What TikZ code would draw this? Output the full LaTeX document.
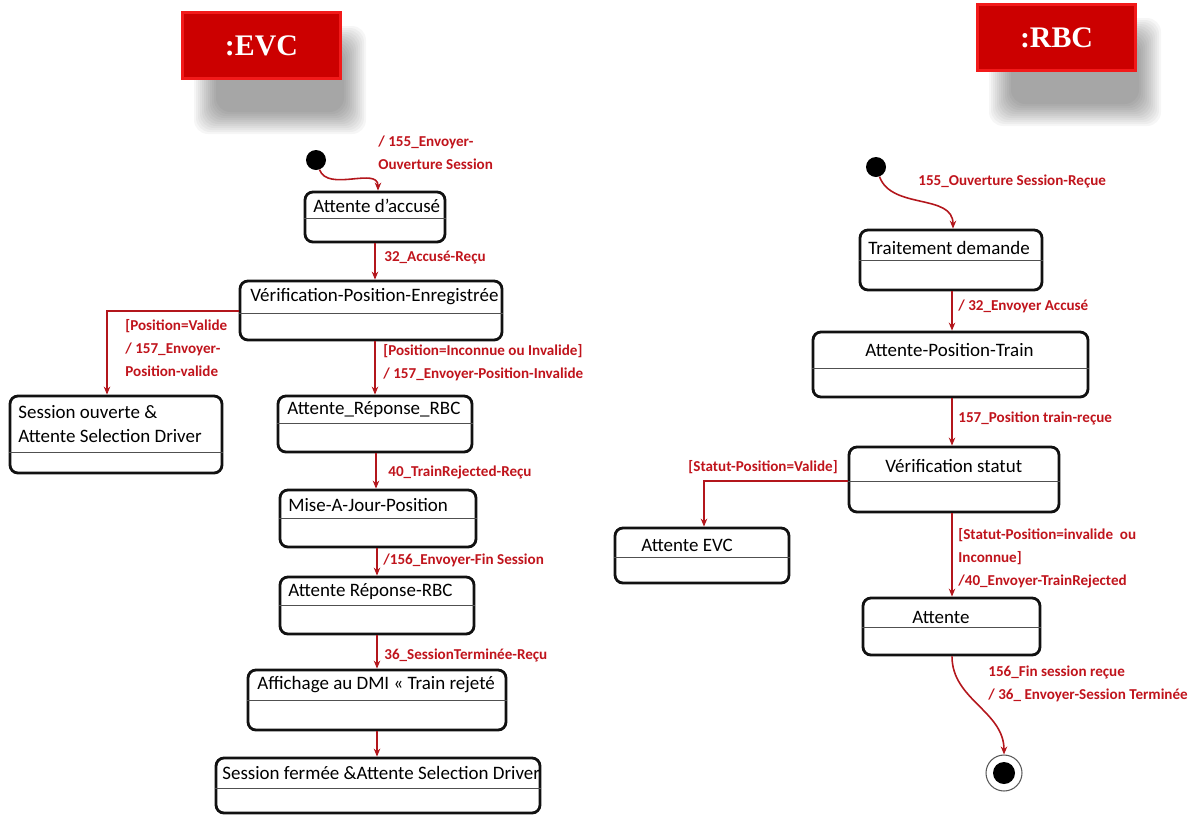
\documentclass[tikz,border=0pt]{standalone}
\usepackage{fontspec}
\setmainfont{Carlito}
\newfontfamily\hdrfont{Liberation Serif}
\usetikzlibrary{positioning,arrows.meta}
\definecolor{sline}{HTML}{111111}
\definecolor{sdivline}{HTML}{505050}
\definecolor{trline}{HTML}{B3161C}
\definecolor{trtext}{HTML}{C0141C}
\definecolor{hdrred}{HTML}{F21A1A}
\definecolor{hdrdark}{HTML}{CC0000}
\tikzset{sbox/.style={rectangle, rounded corners=4.5pt, draw=sline, line width=1.6pt, fill=white, inner sep=0pt}}
\tikzset{stext/.style={font=\fontsize{10.8}{14}\selectfont, inner sep=0pt, anchor=west, align=left}}
\tikzset{sdiv/.style={draw=sdivline, line width=0.5pt}}
\tikzset{tr/.style={-{Stealth[length=1.6mm, width=1.3mm]}, draw=trline, line width=0.9pt}}
\tikzset{trlabel/.style={font=\bfseries\fontsize{8.6}{13}\selectfont, text=trtext, inner sep=0pt, anchor=west, align=left}}
\tikzset{initdot/.style={circle, fill=black, minimum size=0.4cm, inner sep=0pt}}
\tikzset{finalout/.style={circle, draw=gray!70!black, line width=0.6pt, fill=white, minimum size=0.72cm, inner sep=0pt}}
\tikzset{finalin/.style={circle, fill=black, minimum size=0.44cm, inner sep=0pt}}
\tikzset{hdr/.style={rectangle, fill=hdrred, minimum width=3.22cm, minimum height=1.38cm, text=white, font=\hdrfont\bfseries\fontsize{17}{20}\selectfont,
  path picture={\fill[hdrdark] ([shift={(3,3)}]path picture bounding box.north west) rectangle ([shift={(-3,-3)}]path picture bounding box.south east);}}}

\begin{document}
\begin{tikzpicture}[x=0.02cm, y=-0.02cm]
  \useasboundingbox (0,0) rectangle (1200,816);

  % headers
  \foreach \k in {0,...,11} {
    \fill[black, opacity=0.035, rounded corners=8pt] (194+2*\k,26+2*\k) rectangle (366-2*\k,134-2*\k);
    \fill[black, opacity=0.035, rounded corners=8pt] (989+2*\k,18+2*\k) rectangle (1161-2*\k,126-2*\k);
  }
  \node[hdr] (evc) at (261.5,45.5) {:EVC};
  \node[hdr] (rbc) at (1056.5,37.5) {:RBC};

  % EVC states
  \node[initdot] (init1) at (316,160) {};
  \node[sbox, minimum width=2.80cm, minimum height=1.00cm] (accuse) at (375,217) {};
  \node[stext] (accuseT) at (313,206) {Attente d’accusé};
  \draw[sdiv] (accuse.west |- 0,218) -- (accuse.east |- 0,218);

  \node[sbox, minimum width=5.24cm, minimum height=1.18cm] (verif) at (371,310.5) {};
  \node[stext] (verifT) at (250,297) {Vérification-Position-Enregistrée};
  \draw[sdiv] (verif.west |- 0,313) -- (verif.east |- 0,313);

  \node[sbox, minimum width=4.24cm, minimum height=1.54cm] (sessouv) at (116,434.5) {};
  \node[stext] (sessouvT) at (18,424) {Session ouverte \&\\Attente Selection Driver};
  \draw[sdiv] (sessouv.west |- 0,452) -- (sessouv.east |- 0,452);

  \node[sbox, minimum width=3.88cm, minimum height=1.12cm] (attrbc) at (375,424) {};
  \node[stext] (attrbcT) at (287,410) {Attente\_Réponse\_RBC};
  \draw[sdiv] (attrbc.west |- 0,423) -- (attrbc.east |- 0,423);

  \node[sbox, minimum width=3.92cm, minimum height=1.14cm] (majpos) at (378,518.5) {};
  \node[stext] (majposT) at (288,505) {Mise-A-Jour-Position};
  \draw[sdiv] (majpos.west |- 0,518) -- (majpos.east |- 0,518);

  \node[sbox, minimum width=3.88cm, minimum height=1.14cm] (attrep) at (377,605.5) {};
  \node[stext] (attrepT) at (288,592) {Attente Réponse-RBC};
  \draw[sdiv] (attrep.west |- 0,605) -- (attrep.east |- 0,605);

  \node[sbox, minimum width=5.16cm, minimum height=1.20cm] (affich) at (377,700) {};
  \node[stext] (affichT) at (257,685) {Affichage au DMI « Train rejeté};
  \draw[sdiv] (affich.west |- 0,700) -- (affich.east |- 0,700);

  \node[sbox, minimum width=6.48cm, minimum height=1.10cm] (sessferm) at (378,785.5) {};
  \node[stext] (sessfermT) at (222,773) {Session fermée \&Attente Selection Driver};
  \draw[sdiv] (sessferm.west |- 0,788) -- (sessferm.east |- 0,788);

  % RBC states
  \node[initdot] (init2) at (876,167) {};
  \node[sbox, minimum width=3.64cm, minimum height=1.20cm] (traite) at (951,260) {};
  \node[stext] (traiteT) at (868,248) {Traitement demande};
  \draw[sdiv] (traite.west |- 0,260) -- (traite.east |- 0,260);

  \node[sbox, minimum width=5.50cm, minimum height=1.30cm] (attpos) at (950.5,364.5) {};
  \node[stext] (attposT) at (865,350) {Attente-Position-Train};
  \draw[sdiv] (attpos.west |- 0,368) -- (attpos.east |- 0,368);

  \node[sbox, minimum width=4.20cm, minimum height=1.30cm] (verst) at (954,479.5) {};
  \node[stext] (verstT) at (885,466) {Vérification statut};
  \draw[sdiv] (verst.west |- 0,481) -- (verst.east |- 0,481);

  \node[sbox, minimum width=3.48cm, minimum height=1.10cm] (attevc) at (702,555.5) {};
  \node[stext] (attevcT) at (641,545) {Attente EVC};
  \draw[sdiv] (attevc.west |- 0,557) -- (attevc.east |- 0,557);

  \node[sbox, minimum width=3.54cm, minimum height=1.14cm] (attente) at (951.5,626.5) {};
  \node[stext] (attenteT) at (912,617) {Attente};
  \draw[sdiv] (attente.west |- 0,627) -- (attente.east |- 0,627);

  \node[finalout] (finalo) at (1004,773) {};
  \node[finalin] (finali) at (1004,773) {};

  % EVC transitions
  \draw[tr] (init1) to[out=-70, in=90] (accuse.north -| 378,0);
  \draw[tr] (accuse.south -| 375,0) -- (verif.north -| 375,0);
  \draw[tr] (verif.west |- 0,311) -| (sessouv.north -| 107,0);
  \draw[tr] (verif.south -| 375,0) -- (attrbc.north -| 375,0);
  \draw[tr] (attrbc.south -| 376,0) -- (majpos.north -| 376,0);
  \draw[tr] (majpos.south -| 377,0) -- (attrep.north -| 377,0);
  \draw[tr] (attrep.south -| 377,0) -- (affich.north -| 377,0);
  \draw[tr] (affich.south -| 377,0) -- (sessferm.north -| 377,0);

  \node[trlabel, anchor=north west] (l155) at (378,136) {/ 155\_Envoyer-\\Ouverture Session};
  \node[trlabel] (l32) at (384,258) {32\_Accusé-Reçu};
  \node[trlabel, anchor=north west] (lval) at (125,319) {[Position=Valide\\/ 157\_Envoyer-\\Position-valide};
  \node[trlabel, anchor=north west] (linv) at (383,344) {[Position=Inconnue ou Invalide]\\/ 157\_Envoyer-Position-Invalide};
  \node[trlabel] (l40) at (388,472) {40\_TrainRejected-Reçu};
  \node[trlabel] (l156) at (383,560) {/156\_Envoyer-Fin Session};
  \node[trlabel] (l36) at (384,655) {36\_SessionTerminée-Reçu};

  % RBC transitions
  \draw[tr] (init2) to[out=-70, in=90] (traite.north -| 953,0);
  \draw[tr] (traite.south -| 952,0) -- (attpos.north -| 952,0);
  \draw[tr] (attpos.south -| 952,0) -- (verst.north -| 952,0);
  \draw[tr] (verst.west |- 0,481) -| (attevc.north -| 704,0);
  \draw[tr] (verst.south -| 952,0) -- (attente.north -| 952,0);
  \draw[tr] (attente.south -| 952,0) to[out=-90, in=90] (finalo);

  \node[trlabel] (l155r) at (918,181) {155\_Ouverture Session-Reçue};
  \node[trlabel] (l32r) at (958,306) {/ 32\_Envoyer Accusé};
  \node[trlabel] (l157r) at (958,418) {157\_Position train-reçue};
  \node[trlabel, anchor=east] (lvalr) at (838,467) {[Statut-Position=Valide]};
  \node[trlabel, anchor=north west] (linvr) at (958,528) {[Statut-Position=invalide\ \ ou\\Inconnue]\\/40\_Envoyer-TrainRejected};
  \node[trlabel, anchor=north west] (l156r) at (988,666) {156\_Fin session reçue\\/ 36\_ Envoyer-Session Terminée};
\end{tikzpicture}
\end{document}
